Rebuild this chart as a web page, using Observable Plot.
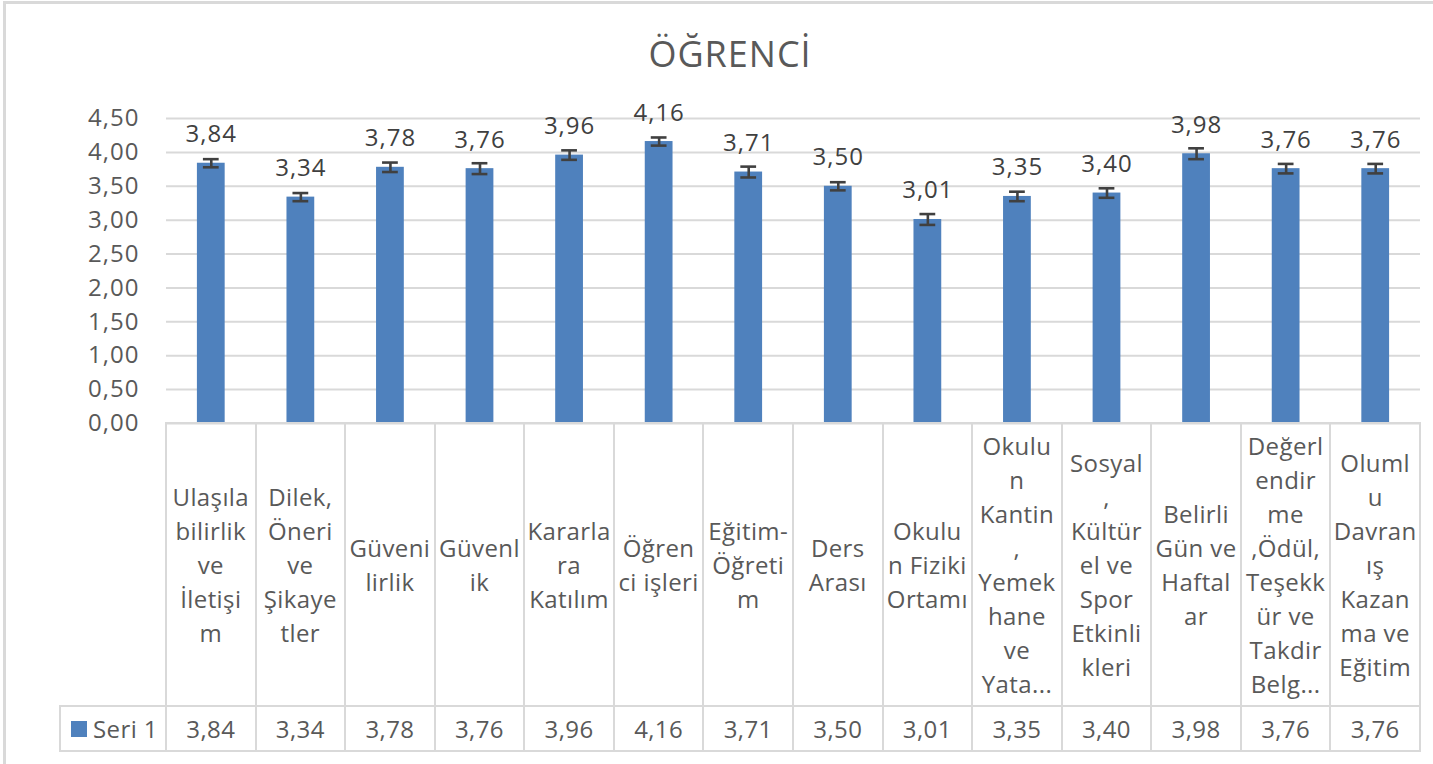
<!DOCTYPE html>
<html>
<head>
<meta charset="utf-8">
<script src="https://cdn.jsdelivr.net/npm/d3@7"></script>
<script src="https://cdn.jsdelivr.net/npm/@observablehq/plot@0.6"></script>
<style>
html, body { margin: 0; padding: 0; background: #fff; }
#wrap { position: relative; width: 1433px; height: 764px; overflow: hidden; font-family: "Open Sans", sans-serif; color: #595959; }
#frame { position: absolute; left: 3px; top: 1px; right: -10px; bottom: -10px; border-left: 3px solid #d9d9d9; border-top: 3px solid #d9d9d9; z-index: 5; pointer-events: none; }
#title { position: absolute; left: 530px; width: 400px; top: 36px; text-align: center; font-size: 36px; line-height: 36px; letter-spacing: 1px; white-space: nowrap; color: #595959; }
#chart { position: absolute; left: 0; top: 0; }
.ln { position: absolute; background: #d9d9d9; }
.cell { position: absolute; display: flex; align-items: center; justify-content: center; text-align: center; white-space: pre; font-size: 24px; letter-spacing: 0.4px; color: #595959; }
.cell.lab { line-height: 34px; }
.cell.leg { justify-content: flex-start; }
.sw { display: inline-block; width: 16px; height: 16px; background: #4f81bd; margin-right: 6px; }
</style>
</head>
<body>
<div id="wrap">
  <div id="title"></div>
  <div id="chart"></div>
  <div id="frame"></div>
</div>
<script>
// ---- data ----
const chartTitle = "ÖĞRENCİ";
const seriesName = "Seri 1";
const categories = [
  "Ulaşıla\nbilirlik\nve\nİletişi\nm",
  "Dilek,\nÖneri\nve\nŞikaye\ntler",
  "Güveni\nlirlik",
  "Güvenl\nik",
  "Kararla\nra\nKatılım",
  "Öğren\nci işleri",
  "Eğitim-\nÖğreti\nm",
  "Ders\nArası",
  "Okulu\nn Fiziki\nOrtamı",
  "Okulu\nn\nKantin\n,\nYemek\nhane\nve\nYata...",
  "Sosyal\n,\nKültür\nel ve\nSpor\nEtkinli\nkleri",
  "Belirli\nGün ve\nHaftal\nar",
  "Değerl\nendir\nme\n,Ödül,\nTeşekk\nür ve\nTakdir\nBelg...",
  "Oluml\nu\nDavran\nış\nKazan\nma ve\nEğitim"
];
const values = [3.84, 3.34, 3.78, 3.76, 3.96, 4.16, 3.71, 3.50, 3.01, 3.35, 3.40, 3.98, 3.76, 3.76];
const errors = [0.06, 0.06, 0.07, 0.08, 0.07, 0.06, 0.08, 0.06, 0.08, 0.07, 0.07, 0.08, 0.07, 0.07];
const yTicks = [0, 0.5, 1, 1.5, 2, 2.5, 3, 3.5, 4, 4.5];

// ---- build ----
const fmt = v => v.toFixed(2).replace(".", ",");
const data = categories.map((c, i) => ({c, v: values[i], e: errors[i]}));
const barPad = 0.69;

document.getElementById("title").textContent = chartTitle;

const chart = Plot.plot({
  width: 1433,
  height: 430,
  marginTop: 118,
  marginBottom: 7,
  marginLeft: 166,
  marginRight: 13,
  style: {fontFamily: "Open Sans", fontSize: "24px", letterSpacing: "1px", color: "#595959", background: "transparent", overflow: "visible"},
  x: {domain: categories, paddingInner: barPad, paddingOuter: barPad / 2, round: false, axis: null},
  y: {domain: [0, 4.5], axis: null},
  marks: [
    Plot.gridY(yTicks, {stroke: "#d9d9d9", strokeOpacity: 1, strokeWidth: 2}),
    Plot.axisY(yTicks, {tickSize: 0, tickPadding: 27, tickFormat: fmt, fill: "#595959", fontSize: 24, label: null}),
    Plot.barY(data, {x: "c", y: "v", fill: "#4f81bd"}),
    Plot.ruleX(data, {x: "c", y1: d => d.v - d.e, y2: d => d.v + d.e, stroke: "#404040", strokeWidth: 2.6}),
    Plot.tickY(data, {x: "c", y: d => d.v - d.e, stroke: "#404040", strokeWidth: 2.6, inset: 6}),
    Plot.tickY(data, {x: "c", y: d => d.v + d.e, stroke: "#404040", strokeWidth: 2.6, inset: 6}),
    Plot.text(data, {x: "c", y: "v", text: d => fmt(d.v), dy: -21, lineAnchor: "bottom", fill: "#404040", fontSize: 24})
  ]
});
document.getElementById("chart").appendChild(chart);

// ---- data table aligned on the plot's x scale ----
const wrap = document.getElementById("wrap");
const xs = chart.scale("x");
const ys = chart.scale("y");
const step = xs.step;
const lefts = categories.map(c => xs.apply(c) + xs.bandwidth / 2 - step / 2);
const rightEdge = lefts[lefts.length - 1] + step;
const top0 = ys.apply(0);
const labH = 283, valH = 45;
const tableLeft = 60;

function el(cls, l, t, w, h) {
  const d = document.createElement("div");
  d.className = cls;
  Object.assign(d.style, {left: l + "px", top: t + "px", width: w + "px", height: h + "px"});
  wrap.appendChild(d);
  return d;
}
// grid lines
el("ln", lefts[0] - 1, top0 - 1, rightEdge - lefts[0] + 1, 2);
el("ln", tableLeft - 1, top0 + labH - 1, rightEdge - tableLeft + 1, 2);
el("ln", tableLeft - 1, top0 + labH + valH - 1, rightEdge - tableLeft + 1, 2);
el("ln", tableLeft - 1, top0 + labH - 1, 2, valH + 2);
[...lefts, rightEdge].forEach(x => el("ln", x - 1, top0 - 1, 2, labH + valH + 2));
// category labels and values
categories.forEach((c, i) => {
  el("cell lab", lefts[i], top0, step, labH).textContent = c;
  el("cell", lefts[i], top0 + labH, step, valH).textContent = fmt(values[i]);
});
// legend cell
const lg = el("cell leg", tableLeft + 11, top0 + labH, lefts[0] - tableLeft - 11, valH);
const sw = document.createElement("span"); sw.className = "sw"; lg.appendChild(sw);
lg.appendChild(document.createTextNode(seriesName));
</script>
</body>
</html>
